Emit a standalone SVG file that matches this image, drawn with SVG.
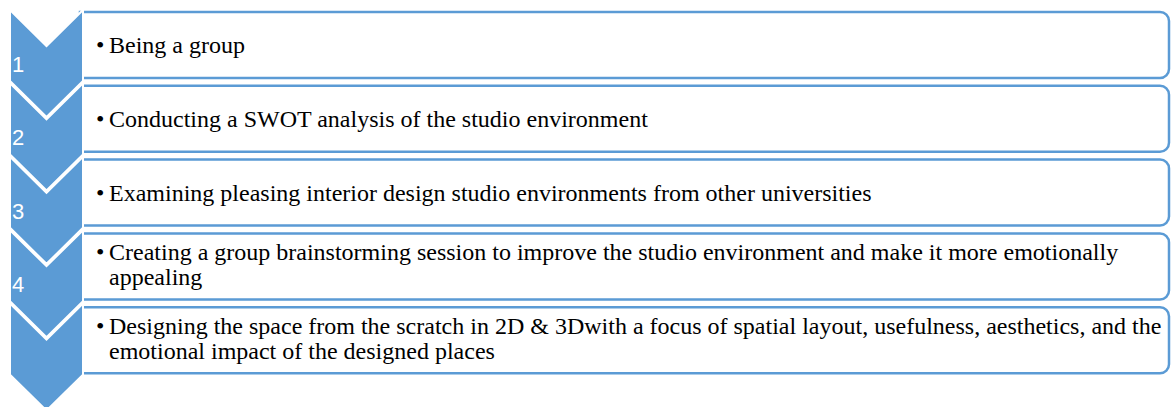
<svg xmlns="http://www.w3.org/2000/svg" width="1171" height="407" viewBox="0 0 1171 407">
  <style>
    .box { fill: #ffffff; stroke: #5B9BD5; stroke-width: 2.5; }
    .chev { fill: #5B9BD5; stroke: #ffffff; stroke-width: 2; stroke-linejoin: miter; }
    .num { font-family: "Liberation Sans", Arial, sans-serif; font-size: 22px; fill: #ffffff; }
    .txt { font-family: "Liberation Serif", "Times New Roman", serif; font-size: 24px; fill: #000000; }
  </style>
  <defs>
    <!-- box with rounded right corners, left side open against the chevron -->
    <path id="boxShape" d="M80,0 H1160 A9,9 0 0 1 1169,9 V57 A9,9 0 0 1 1160,66 H80 Z"/>
    <!-- downward chevron: notch at top, point at bottom -->
    <path id="chevShape" d="M10,0 L46.5,36 L83,0 L83,71 L46.5,107 L10,71 Z"/>
  </defs>

  <g id="step1">
    <use href="#boxShape" class="box" y="12"/>
    <text class="txt" x="96" y="53">•</text>
    <text class="txt" x="109" y="53">Being a group</text>
  </g>
  <g id="step2">
    <use href="#boxShape" class="box" y="85.8"/>
    <text class="txt" x="96" y="127">•</text>
    <text class="txt" x="109" y="127">Conducting a SWOT analysis of the studio environment</text>
  </g>
  <g id="step3">
    <use href="#boxShape" class="box" y="159.6"/>
    <text class="txt" x="96" y="201">•</text>
    <text class="txt" x="109" y="201">Examining pleasing interior design studio environments from other universities</text>
  </g>
  <g id="step4">
    <use href="#boxShape" class="box" y="233.4"/>
    <text class="txt" x="96" y="260">•</text>
    <text class="txt" x="109" y="260">Creating a group brainstorming session to improve the studio environment and make it more emotionally</text>
    <text class="txt" x="109" y="285">appealing</text>
  </g>
  <g id="step5">
    <use href="#boxShape" class="box" y="307.2"/>
    <text class="txt" x="96" y="334">•</text>
    <text class="txt" x="109" y="334">Designing the space from the scratch in 2D &amp; 3Dwith a focus of spatial layout, usefulness, aesthetics, and the</text>
    <text class="txt" x="109" y="359">emotional impact of the designed places</text>
  </g>

  <g id="connectors">
    <g id="chevron1">
      <use href="#chevShape" class="chev" y="10"/>
      <text class="num" x="12" y="71.5">1</text>
    </g>
    <g id="chevron2">
      <use href="#chevShape" class="chev" y="83.4"/>
      <text class="num" x="12" y="145">2</text>
    </g>
    <g id="chevron3">
      <use href="#chevShape" class="chev" y="156.8"/>
      <text class="num" x="12" y="218.5">3</text>
    </g>
    <g id="chevron4">
      <use href="#chevShape" class="chev" y="230.2"/>
      <text class="num" x="12" y="292">4</text>
    </g>
    <g id="chevron5">
      <use href="#chevShape" class="chev" y="303.6"/>
    </g>
  </g>
</svg>
